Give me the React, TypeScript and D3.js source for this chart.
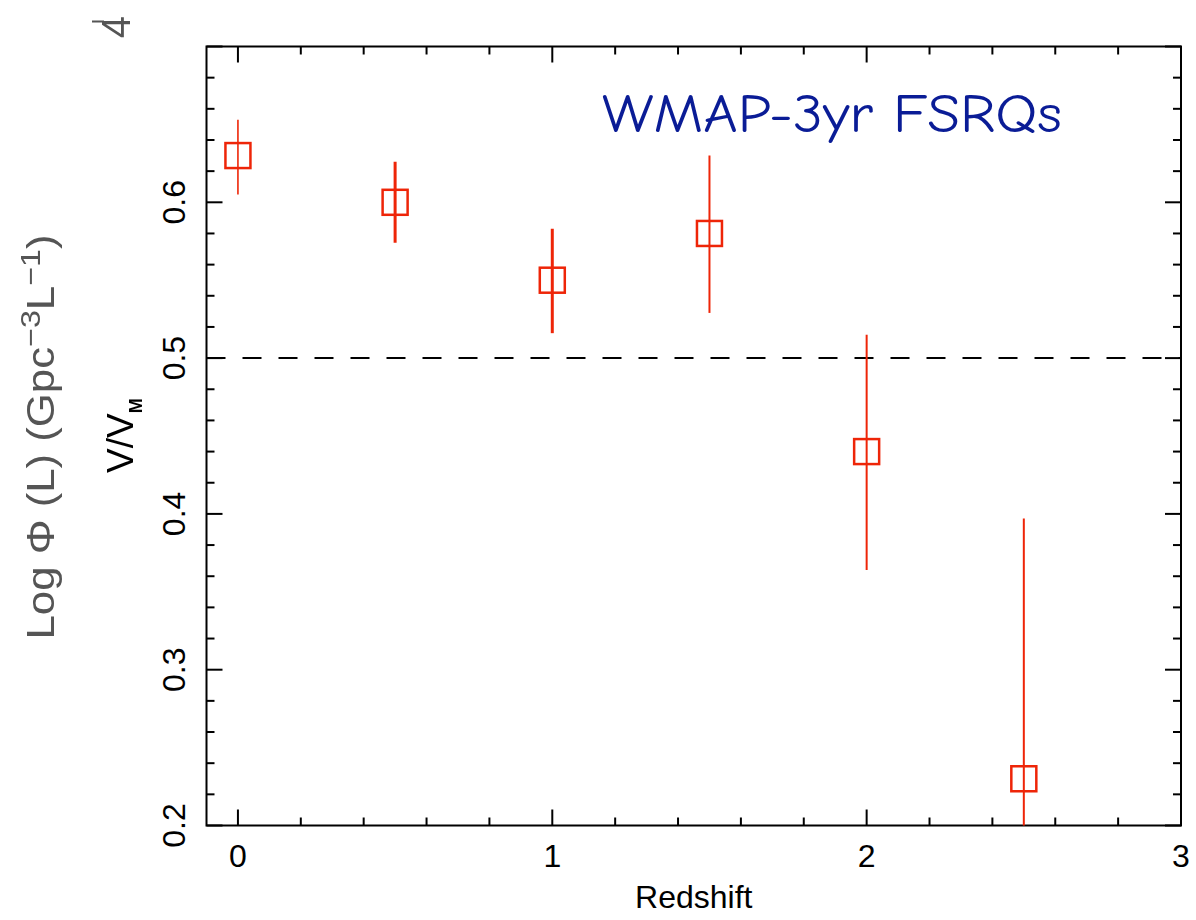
import React from "react";
import * as d3 from "d3";

// V/V_M versus redshift for WMAP 3-year FSRQs
const redshift = [0, 0.5, 1, 1.5, 2, 2.5];
const vOverVm = [0.63, 0.6, 0.55, 0.58, 0.44, 0.23];
const errHigh = [0.653, 0.626, 0.583, 0.63, 0.515, 0.397];
const errLow = [0.605, 0.574, 0.516, 0.529, 0.364, 0.06];

const xTickLabels = ["0", "1", "2", "3"];
const yTickLabels = ["0.2", "0.3", "0.4", "0.5", "0.6"];

// per-point error bar stroke widths
const barStroke = [1.6, 3, 3, 2, 2, 2];

const W = 1196;
const H = 920;
const left = 206.5;
const right = 1181;
const top = 46.5;
const bottom = 825.5;

const RED = "#ee2508";
const AXIS_FONT = "'Liberation Sans', Arial, Helvetica, sans-serif";

export default function App() {
  const x = d3.scaleLinear().domain([-0.1, 3]).range([left, right]);
  const y = d3.scaleLinear().domain([0.2, 0.7]).range([bottom, top]);

  const xMinor = d3.range(0, 3.0001, 0.2).map((v) => +v.toFixed(2));
  const yMinor = d3.range(0.2, 0.7001, 0.02).map((v) => +v.toFixed(3));
  const isMajor = (v: number, step: number) =>
    Math.abs(v / step - Math.round(v / step)) < 1e-6;

  const major = 16;
  const minor = 8;

  return (
    <svg
      width={W}
      height={H}
      style={{ position: "absolute", left: 0, top: 0, background: "#fff" }}
    >
      <defs>
        <clipPath id="plotArea">
          <rect x={left} y={top} width={right - left} height={bottom - top} />
        </clipPath>
        <filter id="soft">
          <feGaussianBlur stdDeviation="0.6" />
        </filter>
      </defs>

      {/* faint underlying axis text */}
      <g filter="url(#soft)" fill="#555" fontFamily={AXIS_FONT}>
        <text
          transform="translate(54,437) rotate(-90)"
          textAnchor="middle"
          fontSize={38}
          textLength={405}
          lengthAdjust="spacingAndGlyphs"
        >
          Log Φ (L) (Gpc
          <tspan dy={-14} fontSize={28}>−3</tspan>
          <tspan dy={14}>L</tspan>
          <tspan dy={-14} fontSize={28}>−1</tspan>
          <tspan dy={14}>)</tspan>
        </text>
        <text transform="translate(130,27) rotate(-90)" textAnchor="middle" fontSize={40}>
          4
        </text>
        <line x1={92} x2={104} y1={21.5} y2={21.5} stroke="#555" strokeWidth={2} />
      </g>

      {/* frame */}
      <rect
        x={left}
        y={top}
        width={right - left}
        height={bottom - top}
        fill="none"
        stroke="#000"
        strokeWidth={2}
      />

      {/* x ticks, bottom and top; y ticks, left and right */}
      <g stroke="#000" strokeWidth={2}>
        {xMinor.map((v) => {
          const len = isMajor(v, 1) ? major : minor;
          const px = x(v);
          return (
            <g key={"x" + v}>
              <line x1={px} x2={px} y1={bottom} y2={bottom - len} />
              <line x1={px} x2={px} y1={top} y2={top + len} />
            </g>
          );
        })}
        {yMinor.map((v) => {
          const len = isMajor(v, 0.1) ? major : minor;
          const py = y(v);
          return (
            <g key={"y" + v}>
              <line x1={left} x2={left + len} y1={py} y2={py} />
              <line x1={right} x2={right - len} y1={py} y2={py} />
            </g>
          );
        })}
      </g>

      {/* tick labels */}
      <g fontFamily={AXIS_FONT} fontSize={32} fill="#000">
        {xTickLabels.map((t) => (
          <text key={t} x={x(+t)} y={867} textAnchor="middle">
            {t}
          </text>
        ))}
        {yTickLabels.map((t) => (
          <text
            key={t}
            transform={`translate(185,${y(+t)}) rotate(-90)`}
            textAnchor="middle"
          >
            {t}
          </text>
        ))}
      </g>

      {/* axis titles */}
      <text
        x={(left + right) / 2}
        y={908}
        textAnchor="middle"
        fontFamily={AXIS_FONT}
        fontSize={32}
        fill="#000"
      >
        Redshift
      </text>
      <text
        transform="translate(133,473) rotate(-90)"
        fontFamily={AXIS_FONT}
        fontSize={37}
        fill="#000"
      >
        V/V
        <tspan dy={9} fontSize={18} fontWeight="900">
          M
        </tspan>
      </text>

      {/* reference line V/V_M = 0.5 */}
      <line
        x1={left}
        x2={right}
        y1={y(0.5)}
        y2={y(0.5)}
        stroke="#000"
        strokeWidth={2}
        strokeDasharray="19 17"
      />

      {/* data with error bars */}
      <g clipPath="url(#plotArea)">
        {redshift.map((z, i) => (
          <g key={z}>
            <line
              x1={x(z)}
              x2={x(z)}
              y1={y(errHigh[i])}
              y2={y(errLow[i])}
              stroke={RED}
              strokeWidth={barStroke[i]}
            />
            <rect
              x={x(z) - 12.5}
              y={y(vOverVm[i]) - 12.5}
              width={25}
              height={25}
              fill="none"
              stroke={RED}
              strokeWidth={2.5}
            />
          </g>
        ))}
      </g>

      {/* panel title */}
      <text
        x={602}
        y={132}
        fontFamily="'Comic Sans MS', 'Comic Neue', 'DejaVu Sans', sans-serif"
        fontSize={54}
        fill="#0a1c96"
        textLength={460}
        lengthAdjust="spacingAndGlyphs"
      >
        WMAP-3yr FSRQs
      </text>
    </svg>
  );
}
